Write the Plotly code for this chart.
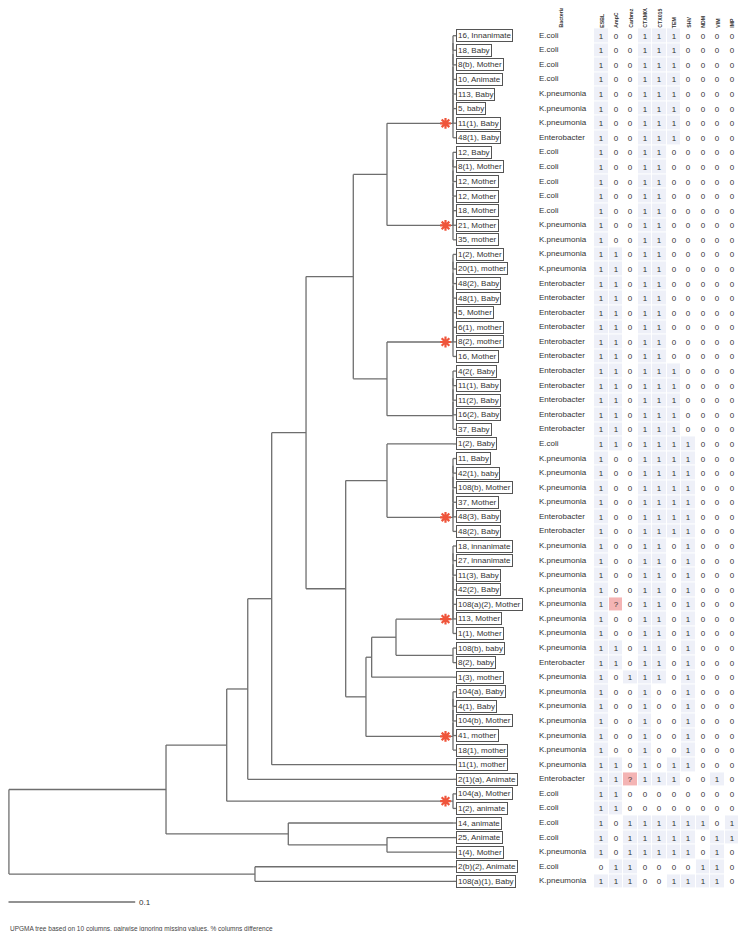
import plotly.graph_objects as go

# ---------------- data ----------------
labels = ["16, Innanimate", "18, Baby", "8(b), Mother", "10, Animate", "113, Baby", "5, baby",
          "11(1), Baby", "48(1), Baby", "12, Baby", "8(1), Mother", "12, Mother", "12, Mother",
          "18, Mother", "21, Mother", "35, mother", "1(2), Mother", "20(1), mother", "48(2), Baby",
          "48(1), Baby", "5, Mother", "6(1), mother", "8(2), mother", "16, Mother", "4(2(, Baby",
          "11(1), Baby", "11(2), Baby", "16(2), Baby", "37, Baby", "1(2), Baby", "11, Baby",
          "42(1), baby", "108(b), Mother", "37, Mother", "48(3), Baby", "48(2), Baby",
          "18, innanimate", "27, innanimate", "11(3), Baby", "42(2), Baby", "108(a)(2), Mother",
          "113, Mother", "1(1), Mother", "108(b), baby", "8(2), baby", "1(3), mother",
          "104(a), Baby", "4(1), Baby", "104(b), Mother", "41, mother", "18(1), mother",
          "11(1), mother", "2(1)(a), Animate", "104(a), Mother", "1(2), animate", "14, animate",
          "25, Animate", "1(4), Mother", "2(b)(2), Animate", "108(a)(1), Baby"]

EC, KP, EB = "E.coli", "K.pneumonia", "Enterobacter"
bacteria = [EC, EC, EC, EC, KP, KP, KP, EB, EC, EC,
            EC, EC, EC, KP, KP, KP, KP, EB, EB, EB,
            EB, EB, EB, EB, EB, EB, EB, EB, EC, KP,
            KP, KP, KP, EB, EB, KP, KP, KP, KP, KP,
            KP, KP, KP, EB, KP, KP, KP, KP, KP, KP,
            KP, EB, EC, EC, EC, EC, KP, EC, KP]

columns = ["ESBL", "AmpC", "Carbmz", "CTXM0U", "CTX015", "TEM", "SHV", "NDM", "VIM", "IMP"]

ESBL = [1, 1, 1, 1, 1, 1, 1, 1, 1, 1,
        1, 1, 1, 1, 1, 1, 1, 1, 1, 1,
        1, 1, 1, 1, 1, 1, 1, 1, 1, 1,
        1, 1, 1, 1, 1, 1, 1, 1, 1, 1,
        1, 1, 1, 1, 1, 1, 1, 1, 1, 1,
        1, 1, 1, 1, 1, 1, 1, 0, 1]
AmpC = [0, 0, 0, 0, 0, 0, 0, 0, 0, 0,
        0, 0, 0, 0, 0, 1, 1, 1, 1, 1,
        1, 1, 1, 1, 1, 1, 1, 1, 1, 0,
        0, 0, 0, 0, 0, 0, 0, 0, 0, "?",
        0, 0, 1, 1, 0, 0, 0, 0, 0, 0,
        1, 1, 1, 1, 0, 0, 0, 1, 1]
Carbmz = [0, 0, 0, 0, 0, 0, 0, 0, 0, 0,
          0, 0, 0, 0, 0, 0, 0, 0, 0, 0,
          0, 0, 0, 0, 0, 0, 0, 0, 0, 0,
          0, 0, 0, 0, 0, 0, 0, 0, 0, 0,
          0, 0, 0, 0, 1, 0, 0, 0, 0, 0,
          0, "?", 0, 0, 1, 1, 1, 1, 1]
CTXM0U = [1, 1, 1, 1, 1, 1, 1, 1, 1, 1,
          1, 1, 1, 1, 1, 1, 1, 1, 1, 1,
          1, 1, 1, 1, 1, 1, 1, 1, 1, 1,
          1, 1, 1, 1, 1, 1, 1, 1, 1, 1,
          1, 1, 1, 1, 1, 1, 1, 1, 1, 1,
          1, 1, 0, 0, 1, 1, 1, 0, 0]
CTX015 = [1, 1, 1, 1, 1, 1, 1, 1, 1, 1,
          1, 1, 1, 1, 1, 1, 1, 1, 1, 1,
          1, 1, 1, 1, 1, 1, 1, 1, 1, 1,
          1, 1, 1, 1, 1, 1, 1, 1, 1, 1,
          1, 1, 1, 1, 1, 0, 0, 0, 0, 0,
          0, 1, 0, 0, 1, 1, 1, 0, 0]
TEM = [1, 1, 1, 1, 1, 1, 1, 1, 0, 0,
       0, 0, 0, 0, 0, 0, 0, 0, 0, 0,
       0, 0, 0, 1, 1, 1, 1, 1, 1, 1,
       1, 1, 1, 1, 1, 0, 0, 0, 0, 0,
       0, 0, 0, 0, 0, 0, 0, 0, 0, 0,
       1, 1, 0, 0, 1, 1, 1, 0, 1]
SHV = [0, 0, 0, 0, 0, 0, 0, 0, 0, 0,
       0, 0, 0, 0, 0, 0, 0, 0, 0, 0,
       0, 0, 0, 0, 0, 0, 0, 0, 1, 1,
       1, 1, 1, 1, 1, 1, 1, 1, 1, 1,
       1, 1, 1, 1, 1, 1, 1, 1, 1, 1,
       1, 0, 0, 0, 1, 1, 1, 0, 1]
NDM = [0, 0, 0, 0, 0, 0, 0, 0, 0, 0,
       0, 0, 0, 0, 0, 0, 0, 0, 0, 0,
       0, 0, 0, 0, 0, 0, 0, 0, 0, 0,
       0, 0, 0, 0, 0, 0, 0, 0, 0, 0,
       0, 0, 0, 0, 0, 0, 0, 0, 0, 0,
       0, 0, 0, 0, 1, 0, 0, 1, 1]
VIM = [0, 0, 0, 0, 0, 0, 0, 0, 0, 0,
       0, 0, 0, 0, 0, 0, 0, 0, 0, 0,
       0, 0, 0, 0, 0, 0, 0, 0, 0, 0,
       0, 0, 0, 0, 0, 0, 0, 0, 0, 0,
       0, 0, 0, 0, 0, 0, 0, 0, 0, 0,
       0, 1, 0, 0, 0, 1, 1, 1, 1]
IMP = [0, 0, 0, 0, 0, 0, 0, 0, 0, 0,
       0, 0, 0, 0, 0, 0, 0, 0, 0, 0,
       0, 0, 0, 0, 0, 0, 0, 0, 0, 0,
       0, 0, 0, 0, 0, 0, 0, 0, 0, 0,
       0, 0, 0, 0, 0, 0, 0, 0, 0, 0,
       0, 0, 0, 0, 1, 1, 0, 0, 0]

# zero-distance clusters flagged with a red asterisk (first leaf, end leaf exclusive)
flagged_clusters = [(0, 8), (8, 15), (15, 23), (29, 35), (35, 42), (45, 50), (52, 54)]

# UPGMA node heights (read from the tree against its 0.1 scale bar)
h_root, h_A, h_C, h_F, h_H, h_I = 0.3505, 0.2265, 0.1786, 0.1620, 0.1431, 0.1160
h_J, h_K, h_M, h_L, h_N = 0.0787, 0.0847, 0.0521, 0.0521, 0.0521
h_O, h_P, h_Q = 0.0687, 0.0642, 0.0450
h_D, h_E, h_B = 0.1300, 0.0521, 0.1563


def Z(a, b):
    node = a
    for i in range(a + 1, b):
        node = (0.0, [node, i])
    return node


tree = (h_root, [
    (h_A, [
        (h_C, [
            (h_F, [
                (h_H, [
                    (h_I, [
                        (h_J, [
                            (h_M, [Z(0, 8), Z(8, 15)]),
                            (h_L, [Z(15, 23), Z(23, 28)])]),
                        (h_K, [
                            (h_N, [28, Z(29, 35)]),
                            (h_O, [
                                (h_P, [
                                    (h_Q, [Z(35, 42), Z(42, 44)]),
                                    44]),
                                Z(45, 50)])])]),
                    50]),
                51]),
            Z(52, 54)]),
        (h_D, [54, (h_E, [55, 56])])]),
    (h_B, [57, 58])])

# ---------------- geometry (page has an 8px body margin) ----------------
OFF = 8.0
W, H = 738, 923
PX_PER_UNIT = 1267.0
LEAF_PX = 453.0 - OFF
ROW0_PX = 35.7 - OFF
ROW_PX = 14.58
FONT = "Liberation Sans, Arial, sans-serif"

lx, ly = [], []


def layout_tree(node):
    if isinstance(node, int):
        return 0.0, float(node)
    h, kids = node
    pos = [layout_tree(k) for k in kids]
    ys = [p[1] for p in pos]
    x = -h
    lx.extend([x, x, None]); ly.extend([min(ys), max(ys), None])
    for cx, cy in pos:
        lx.extend([x, cx, None]); ly.extend([cy, cy, None])
    return x, (min(ys) + max(ys)) / 2


def node_y(node):
    if isinstance(node, int):
        return float(node)
    ys = [node_y(k) for k in node[1]]
    return (min(ys) + max(ys)) / 2


def px_x(p):  # reference pixel -> tree units
    return (p - OFF - LEAF_PX) / PX_PER_UNIT


def px_y(p):  # reference pixel -> row units
    return (p - OFF - ROW0_PX) / ROW_PX


layout_tree(tree)
box_x = px_x(456.0)
for i in range(len(labels)):
    lx.extend([0.0, box_x, None]); ly.extend([i, i, None])

fig = go.Figure()
fig.add_trace(go.Scatter(x=lx, y=ly, mode="lines", line=dict(color="#6e6e6e", width=1.3),
                         hoverinfo="skip", showlegend=False))

# asterisks
ast_y = [node_y(Z(a, b)) for a, b in flagged_clusters]
fig.add_trace(go.Scatter(x=[px_x(445.5)] * len(ast_y), y=ast_y, mode="markers",
                         marker=dict(symbol="asterisk-open", size=9,
                                     line=dict(color="#d7191c", width=2.2)),
                         hoverinfo="skip", showlegend=False))

# bacteria text
fig.add_trace(go.Scatter(x=[px_x(539.0)] * len(bacteria), y=list(range(len(bacteria))), mode="text",
                         text=bacteria, textposition="middle right",
                         textfont=dict(size=8, color="#333333", family=FONT),
                         hoverinfo="skip", showlegend=False))

# heatmap
col_data = [ESBL, AmpC, Carbmz, CTXM0U, CTX015, TEM, SHV, NDM, VIM, IMP]
nrows = len(labels)
zmat, tmat = [], []
for r in range(nrows):
    zr, tr = [], []
    for c in col_data:
        v = c[r]
        if v == "?":
            zr.append(2); tr.append("?")
        else:
            zr.append(v); tr.append(str(v))
    zmat.append(zr); tmat.append(tr)

fig.add_trace(go.Heatmap(z=zmat, x=list(range(len(columns))), y=list(range(nrows)),
                         text=tmat, texttemplate="%{text}",
                         textfont=dict(size=8, color="#333333", family=FONT),
                         zmin=0, zmax=2, showscale=False, xgap=1, ygap=1,
                         colorscale=[[0, "#ffffff"], [0.25, "#ffffff"], [0.25, "#eef0f8"],
                                     [0.75, "#eef0f8"], [0.75, "#f4b4b4"], [1, "#f4b4b4"]],
                         xaxis="x2", yaxis="y", hoverinfo="skip"))

annotations = []
for i, lab in enumerate(labels):
    annotations.append(dict(x=box_x, y=i, xref="x", yref="y", text=lab, showarrow=False,
                            xanchor="left", yanchor="middle", bordercolor="#555555",
                            borderwidth=1, borderpad=1,
                            font=dict(size=8, color="#333333", family=FONT)))

header_y = px_y(30.0)
for j, col in enumerate(columns):
    annotations.append(dict(x=j, y=header_y, xref="x2", yref="y", text="<b>" + col + "</b>",
                            showarrow=False, textangle=-90, xanchor="center", yanchor="bottom",
                            font=dict(size=5.2, color="#333333", family=FONT)))
annotations.append(dict(x=px_x(560.0), y=px_y(30.0), xref="x", yref="y",
                        text="<b>Bacteria</b>", showarrow=False, textangle=-90,
                        xanchor="center", yanchor="bottom",
                        font=dict(size=5.2, color="#333333", family=FONT)))

# scale bar
scale_len = 0.1
sb_x0 = px_x(8.5)
sb_y = px_y(902.0)
fig.add_trace(go.Scatter(x=[sb_x0, sb_x0 + scale_len], y=[sb_y, sb_y], mode="lines",
                         line=dict(color="#6e6e6e", width=1.3), hoverinfo="skip", showlegend=False))
annotations.append(dict(x=sb_x0 + scale_len, y=sb_y, xref="x", yref="y", text=str(scale_len),
                        showarrow=False, xanchor="left", yanchor="middle", xshift=2,
                        font=dict(size=8, color="#333333", family=FONT)))

annotations.append(dict(x=0.0, y=1 - (929.0 - OFF) / H, xref="paper", yref="paper",
                        text="UPGMA tree based on 10 columns, pairwise ignoring missing values, % columns difference",
                        showarrow=False, xanchor="left", yanchor="middle",
                        font=dict(size=6.5, color="#444444", family=FONT)))

# heatmap columns (kept inside the visible page width)
COL0_PX = 601.2
COL_STEP = 14.5
x2_left = (COL0_PX - OFF - COL_STEP / 2) / W
x2_right = (COL0_PX - OFF + COL_STEP * (len(columns) - 1) + COL_STEP / 2) / W

fig.update_layout(
    width=W, height=H, margin=dict(l=0, r=0, t=0, b=0),
    paper_bgcolor="white", plot_bgcolor="rgba(0,0,0,0)",
    showlegend=False, annotations=annotations,
    xaxis=dict(range=[-LEAF_PX / PX_PER_UNIT, (W - LEAF_PX) / PX_PER_UNIT], domain=[0, 1],
               visible=False, fixedrange=True),
    xaxis2=dict(range=[-0.5, len(columns) - 0.5], domain=[x2_left, x2_right], anchor="y",
                visible=False, fixedrange=True),
    yaxis=dict(range=[(H - ROW0_PX) / ROW_PX, -ROW0_PX / ROW_PX], domain=[0, 1],
               visible=False, fixedrange=True),
)

fig.write_html("out.html")
